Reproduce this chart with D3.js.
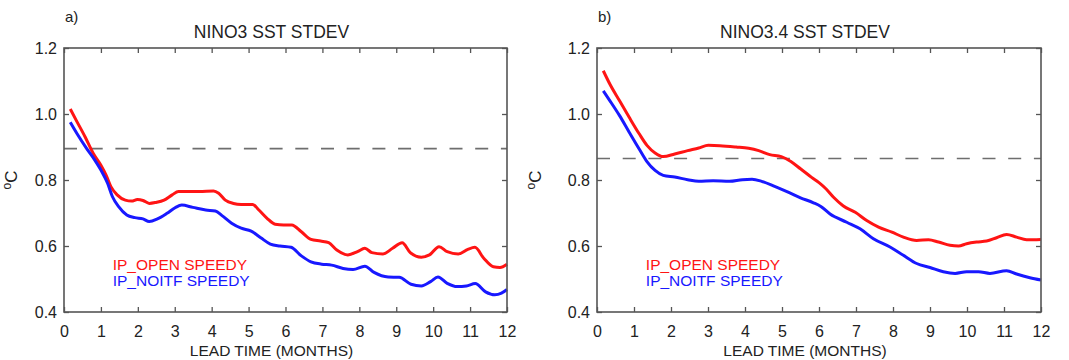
<!DOCTYPE html>
<html>
<head>
<meta charset="utf-8">
<script src="https://cdn.jsdelivr.net/npm/d3@7"></script>
<style>
  body { margin: 0; background: #fff; }
  svg text { font-family: "Liberation Sans", Arial, sans-serif; }
</style>
</head>
<body>
<script>
// lead time (months) and values
const monthTicks = [0, 1, 2, 3, 4, 5, 6, 7, 8, 9, 10, 11, 12];
const yTicks = [0.4, 0.6, 0.8, 1.0, 1.2];
const seriesNames = ["IP_OPEN SPEEDY", "IP_NOITF SPEEDY"];
const panelTitles = ["NINO3 SST STDEV", "NINO3.4 SST STDEV"];
const panelLetters = ["a)", "b)"];
const refLevels = [0.895, 0.865];

const nino3Open = [[0.17,1.015],[0.35,0.977],[0.57,0.931],[0.79,0.881],[1.0,0.845],[1.14,0.815],[1.27,0.78],[1.44,0.755],[1.66,0.739],[1.83,0.736],[1.99,0.741],[2.14,0.738],[2.31,0.729],[2.49,0.732],[2.71,0.739],[2.93,0.755],[3.1,0.765],[3.32,0.765],[3.67,0.765],[4.05,0.767],[4.19,0.76],[4.37,0.739],[4.59,0.729],[4.8,0.726],[5.11,0.726],[5.28,0.709],[5.5,0.684],[5.72,0.666],[5.95,0.664],[6.17,0.664],[6.43,0.643],[6.69,0.62],[6.95,0.615],[7.17,0.61],[7.39,0.588],[7.69,0.573],[7.95,0.583],[8.15,0.593],[8.34,0.58],[8.64,0.576],[8.9,0.593],[9.16,0.61],[9.38,0.58],[9.68,0.566],[9.9,0.573],[10.16,0.598],[10.38,0.583],[10.68,0.576],[10.94,0.59],[11.13,0.596],[11.37,0.563],[11.63,0.537],[11.81,0.535],[12,0.545]];
const nino3Noitf = [[0.17,0.975],[0.35,0.941],[0.61,0.896],[0.83,0.861],[1.0,0.83],[1.18,0.79],[1.31,0.75],[1.48,0.719],[1.7,0.694],[1.92,0.686],[2.14,0.682],[2.31,0.674],[2.53,0.682],[2.79,0.699],[3.01,0.716],[3.19,0.724],[3.49,0.717],[3.84,0.709],[4.1,0.706],[4.28,0.692],[4.54,0.669],[4.8,0.654],[5.07,0.645],[5.33,0.625],[5.59,0.606],[5.85,0.6],[6.15,0.596],[6.43,0.57],[6.69,0.552],[6.98,0.545],[7.25,0.542],[7.56,0.532],[7.83,0.529],[8.15,0.539],[8.4,0.52],[8.78,0.506],[9.08,0.505],[9.4,0.484],[9.68,0.479],[9.93,0.492],[10.13,0.506],[10.38,0.487],[10.65,0.477],[10.9,0.479],[11.14,0.486],[11.42,0.461],[11.67,0.452],[11.85,0.457],[12,0.468]];
const nino34Open = [[0.17,1.131],[0.35,1.09],[0.61,1.04],[0.87,0.99],[1.14,0.94],[1.35,0.905],[1.57,0.882],[1.79,0.871],[2.1,0.879],[2.45,0.889],[2.75,0.897],[3.01,0.905],[3.32,0.904],[3.76,0.9],[4.1,0.896],[4.37,0.889],[4.67,0.877],[4.98,0.871],[5.24,0.856],[5.5,0.834],[5.8,0.808],[6.0,0.792],[6.2,0.772],[6.4,0.747],[6.65,0.722],[6.98,0.702],[7.29,0.677],[7.61,0.657],[7.97,0.642],[8.28,0.627],[8.64,0.617],[8.96,0.619],[9.23,0.612],[9.54,0.602],[9.77,0.6],[9.99,0.607],[10.26,0.612],[10.53,0.615],[10.8,0.625],[11.07,0.635],[11.34,0.627],[11.61,0.619],[12,0.62]];
const nino34Noitf = [[0.17,1.07],[0.35,1.04],[0.61,0.995],[0.87,0.945],[1.14,0.894],[1.35,0.856],[1.57,0.829],[1.79,0.814],[2.1,0.809],[2.45,0.801],[2.75,0.796],[3.14,0.798],[3.58,0.796],[3.93,0.801],[4.19,0.802],[4.45,0.796],[4.8,0.781],[5.15,0.764],[5.5,0.746],[5.85,0.731],[6.05,0.72],[6.3,0.697],[6.75,0.672],[7.11,0.652],[7.47,0.622],[7.92,0.597],[8.28,0.572],[8.64,0.547],[9.0,0.535],[9.36,0.522],[9.68,0.517],[9.99,0.522],[10.31,0.522],[10.62,0.517],[11.07,0.525],[11.34,0.515],[11.7,0.504],[12,0.497]];

const colors = ["#ff1414", "#1818ff"];
const textColor = "#222";
const W = 1069, H = 360;
const plotTop = 48, plotBottom = 312;

let svg = d3.select("body").append("svg")
        .attr("width", W)
        .attr("height", H);

let panels = [
  {x0: 64, x1: 507, labelX: 17, series: [nino3Open, nino3Noitf]},
  {x0: 597, x1: 1041, labelX: 541, series: [nino34Open, nino34Noitf]}
];

panels.forEach(function(p, i){
  let x = d3.scaleLinear().domain([0, 12]).range([p.x0, p.x1]);
  let y = d3.scaleLinear().domain([0.4, 1.2]).range([plotBottom, plotTop]);
  let g = svg.append("g");

  // dashed reference level
  g.append("line")
    .attr("x1", p.x0).attr("x2", p.x1)
    .attr("y1", y(refLevels[i])).attr("y2", y(refLevels[i]))
    .attr("stroke", "#6e6e6e").attr("stroke-width", 1.6)
    .attr("stroke-dasharray", "13,12.7");

  let line = d3.line()
    .x(d => x(d[0]))
    .y(d => y(d[1]))
    .curve(d3.curveMonotoneX);

  p.series.forEach(function(s, k){
    g.append("path")
      .datum(s)
      .attr("d", line)
      .attr("fill", "none")
      .attr("stroke", colors[k])
      .attr("stroke-width", 3)
      .attr("stroke-linejoin", "round");
  });

  // axes, ticks pointing inward
  g.append("g").attr("transform", "translate(0," + plotBottom + ")")
    .call(d3.axisBottom(x).tickValues(monthTicks).tickSize(-5).tickSizeOuter(0).tickPadding(14).tickFormat(d3.format("d")));
  g.append("g").attr("transform", "translate(0," + plotTop + ")")
    .call(d3.axisTop(x).tickValues(monthTicks).tickSize(-5).tickSizeOuter(0).tickFormat(""));
  g.append("g").attr("transform", "translate(" + p.x0 + ",0)")
    .call(d3.axisLeft(y).tickValues(yTicks).tickSize(-5).tickSizeOuter(0).tickPadding(7).tickFormat(d3.format(".1f")));
  g.append("g").attr("transform", "translate(" + p.x1 + ",0)")
    .call(d3.axisRight(y).tickValues(yTicks).tickSize(-5).tickSizeOuter(0).tickFormat(""));

  g.selectAll(".domain").remove();
  g.selectAll(".tick line").attr("stroke", "#555").attr("stroke-width", 1.3);
  g.selectAll(".tick text").attr("font-size", 16).attr("fill", textColor)
    .style("font-family", "'Liberation Sans', Arial, sans-serif");

  g.append("rect")
    .attr("x", p.x0).attr("y", plotTop)
    .attr("width", p.x1 - p.x0).attr("height", plotBottom - plotTop)
    .attr("fill", "none").attr("stroke", "#555").attr("stroke-width", 1.6);

  let cx = (p.x0 + p.x1) / 2 - 14;
  g.append("text")
    .attr("x", cx).attr("y", 38)
    .attr("text-anchor", "middle")
    .attr("font-size", 17.5)
    .attr("fill", textColor)
    .text(panelTitles[i]);

  g.append("text")
    .attr("x", p.x0 + 1).attr("y", 22)
    .attr("font-size", 15)
    .attr("fill", textColor)
    .text(panelLetters[i]);

  g.append("text")
    .attr("x", cx).attr("y", 356)
    .attr("text-anchor", "middle")
    .attr("font-size", 15.5)
    .attr("fill", textColor)
    .text("LEAD TIME (MONTHS)");

  let ylab = g.append("text")
    .attr("transform", "translate(" + p.labelX + ",180) rotate(-90)")
    .attr("text-anchor", "middle")
    .attr("font-size", 17)
    .attr("fill", textColor);
  ylab.append("tspan").attr("font-size", 12).attr("dy", -6).text("o");
  ylab.append("tspan").attr("dy", 6).text("C");

  seriesNames.forEach(function(name, k){
    g.append("text")
      .attr("x", x(1.32)).attr("y", 270 + 15.5 * k)
      .attr("font-size", 15.5)
      .attr("fill", colors[k])
      .text(name);
  });
});
</script>
</body>
</html>
